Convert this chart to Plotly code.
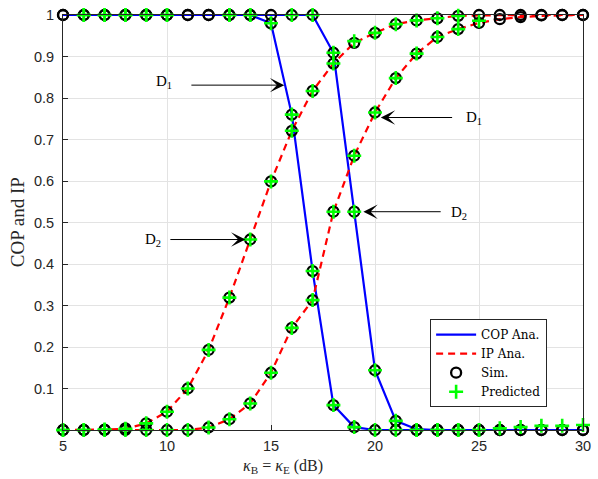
import plotly.graph_objects as go

# SNR grid (dB), kappa_B = kappa_E
snr_db = list(range(5, 31))

# Analytical connection outage probability for the two designs
cop_ana_d1 = [1, 1, 1, 1, 1, 1, 1, 1, 1, 1, 0.98, 0.76, 0.383, 0.06, 0.007,
              0, 0, 0, 0, 0, 0, 0, 0, 0, 0, 0]
cop_ana_d2 = [1, 1, 1, 1, 1, 1, 1, 1, 1, 1, 1, 1, 1, 0.909, 0.526,
              0.144, 0.022, 0.002, 0, 0, 0, 0, 0, 0, 0, 0]

# Analytical intercept probability for the two designs
ip_ana_d1 = [0, 0, 0, 0, 0, 0, 0, 0.006, 0.026, 0.064, 0.138, 0.246, 0.313,
             0.526, 0.661, 0.765, 0.848, 0.907, 0.947, 0.966, 0.981, 0.99,
             0.995, 0.998, 0.999, 1]
ip_ana_d2 = [0, 0, 0.001, 0.003, 0.016, 0.044, 0.100, 0.193, 0.319, 0.459,
             0.599, 0.721, 0.817, 0.883, 0.933, 0.957, 0.978, 0.987, 0.992,
             0.998, 0.999, 1, 1, 1, 1, 1]

# Monte-Carlo simulation results
cop_sim_d1 = [1, 1, 1, 1, 1, 1, 1, 1, 1, 1, 0.98, 0.76, 0.383, 0.06, 0.007,
              0, 0, 0, 0, 0, 0, 0, 0, 0, 0, 0]
cop_sim_d2 = [1, 1, 1, 1, 1, 1, 1, 1, 1, 1, 1, 1, 1, 0.909, 0.526,
              0.144, 0.022, 0, 0, 0, 0, 0, 0, 0, 0, 0]
ip_sim_d1 = [0, 0, 0, 0, 0, 0, 0, 0.006, 0.026, 0.064, 0.138, 0.246, 0.313,
             0.526, 0.661, 0.765, 0.848, 0.907, 0.947, 0.966, 0.981, 0.99,
             0.995, 0.999, 1, 1]
ip_sim_d2 = [0, 0, 0.001, 0.004, 0.016, 0.044, 0.100, 0.193, 0.319, 0.459,
             0.599, 0.721, 0.817, 0.883, 0.933, 0.957, 0.978, 0.987, 0.992,
             0.998, 1, 1, 1, 1, 1, 1]

# Predicted values (None where no prediction is shown)
cop_pred_d1 = [None, 1, 1, 1, 1, 1, None, None, 1, 1, 0.98, 0.76, 0.383,
               0.06, 0.007, 0, 0, 0, 0, 0, 0, 0.004, 0.007, 0.010, 0.010, 0.012]
cop_pred_d2 = [None, 1, 1, 1, 1, 1, None, None, 1, 1, None, 1, 1, 0.909,
               0.526, 0.144, 0.022, 0, 0, 0, 0, None, None, None, None, None]
ip_pred_d1 = [0, 0, 0, 0, 0, 0, 0, 0.006, 0.026, 0.064, 0.138, 0.246, 0.313,
              0.526, 0.661, 0.765, 0.848, 0.907, 0.947, 0.966, 0.986, None,
              None, None, None, None]
ip_pred_d2 = [0, 0, 0.001, 0.003, 0.016, 0.044, 0.100, 0.193, 0.319, 0.459,
              0.599, 0.721, 0.817, 0.883, 0.937, 0.957, 0.978, 0.987, 0.992,
              0.998, None, None, None, None, None, None]

x_ticks = [5, 10, 15, 20, 25, 30]
y_ticks = [0.1, 0.2, 0.3, 0.4, 0.5, 0.6, 0.7, 0.8, 0.9, 1]
y_tick_text = ["0.1", "0.2", "0.3", "0.4", "0.5", "0.6", "0.7", "0.8", "0.9", "1"]

SERIF = "Liberation Serif"
SANS = "Liberation Sans"
AX = "#262626"

fig = go.Figure()

# analytic curves
for i, y in enumerate([cop_ana_d1, cop_ana_d2]):
    fig.add_trace(go.Scatter(
        x=snr_db, y=y, mode="lines", name="COP Ana.", legendgroup="cop",
        showlegend=(i == 0), line=dict(color="#0000ff", width=2.2),
        cliponaxis=False))
for i, y in enumerate([ip_ana_d1, ip_ana_d2]):
    fig.add_trace(go.Scatter(
        x=snr_db, y=y, mode="lines", name="IP Ana.", legendgroup="ip",
        showlegend=(i == 0),
        line=dict(color="#ff0000", width=2.2, dash="7px,5px"),
        cliponaxis=False))

# simulation markers
for i, y in enumerate([cop_sim_d1, cop_sim_d2, ip_sim_d1, ip_sim_d2]):
    fig.add_trace(go.Scatter(
        x=snr_db, y=y, mode="markers", name="Sim.", legendgroup="sim",
        showlegend=(i == 0),
        marker=dict(symbol="circle-open", size=10, color="black",
                    line=dict(width=2.3, color="black")),
        cliponaxis=False))

# predicted markers
for i, y in enumerate([cop_pred_d1, cop_pred_d2, ip_pred_d1, ip_pred_d2]):
    fig.add_trace(go.Scatter(
        x=snr_db, y=y, mode="markers", name="Predicted", legendgroup="pred",
        showlegend=(i == 0),
        marker=dict(symbol="cross-thin-open", size=10, color="#00ff00",
                    line=dict(width=2.6, color="#00ff00")),
        cliponaxis=False))

# labels with arrows pointing at the curves
labels = [
    ("D<sub>1</sub>", 9.87, 0.839, 11.10, 0.831, 15.64, 0.831),
    ("D<sub>1</sub>", 24.77, 0.752, 23.78, 0.753, 20.28, 0.753),
    ("D<sub>2</sub>", 9.35, 0.459, 10.09, 0.459, 13.77, 0.459),
    ("D<sub>2</sub>", 24.02, 0.524, 23.23, 0.526, 19.44, 0.526),
]
annotations = []
for txt, tx, ty, ax0, ay0, x1, y1 in labels:
    annotations.append(dict(
        x=tx, y=ty, xref="x", yref="y", text=txt, showarrow=False,
        font=dict(family=SERIF, size=15, color="black")))
    annotations.append(dict(
        x=x1, y=y1, xref="x", yref="y", ax=ax0, ay=ay0, axref="x", ayref="y",
        text="", showarrow=True, arrowhead=3, arrowsize=2.4, arrowwidth=1,
        arrowcolor="black", standoff=0, startstandoff=0))

# axis titles
annotations.append(dict(
    x=0.424, y=-0.089, xref="paper", yref="paper", xanchor="center",
    yanchor="middle", showarrow=False,
    text="<i>κ</i><sub>B</sub> = <i>κ</i><sub>E</sub> (dB)",
    font=dict(family=SERIF, size=16, color=AX)))
annotations.append(dict(
    x=-0.087, y=0.5, xref="paper", yref="paper", xanchor="center",
    yanchor="middle", showarrow=False, textangle=-90, text="COP and IP",
    font=dict(family=SERIF, size=19, color=AX)))

fig.update_layout(
    width=598, height=479,
    margin=dict(l=63, r=7, t=14, b=49),
    paper_bgcolor="white", plot_bgcolor="white",
    annotations=annotations,
    showlegend=True,
    legend=dict(
        x=0.706, y=0.267, xanchor="left", yanchor="top",
        bgcolor="white", bordercolor=AX, borderwidth=1,
        font=dict(family="DejaVu Serif", size=12, color="black"),
        tracegroupgap=0, itemwidth=40,
    ),
    xaxis=dict(
        range=[5, 30], tickvals=x_ticks, ticks="inside", ticklen=5,
        tickcolor=AX, showline=True, linecolor=AX, linewidth=1, mirror=True,
        showgrid=True, gridcolor="#e3e3e3", gridwidth=1, zeroline=False,
        tickfont=dict(family=SANS, size=14.5, color=AX),
        ticklabeloverflow="allow", ticklabelstandoff=3,
    ),
    yaxis=dict(
        range=[0, 1], tickvals=y_ticks, ticktext=y_tick_text, ticks="inside",
        ticklen=5, tickcolor=AX, showline=True, linecolor=AX, linewidth=1,
        mirror=True, showgrid=True, gridcolor="#e3e3e3", gridwidth=1,
        zeroline=False, tickfont=dict(family=SANS, size=14.5, color=AX),
        ticklabelstandoff=5,
    ),
)

fig.write_html("out.html")
